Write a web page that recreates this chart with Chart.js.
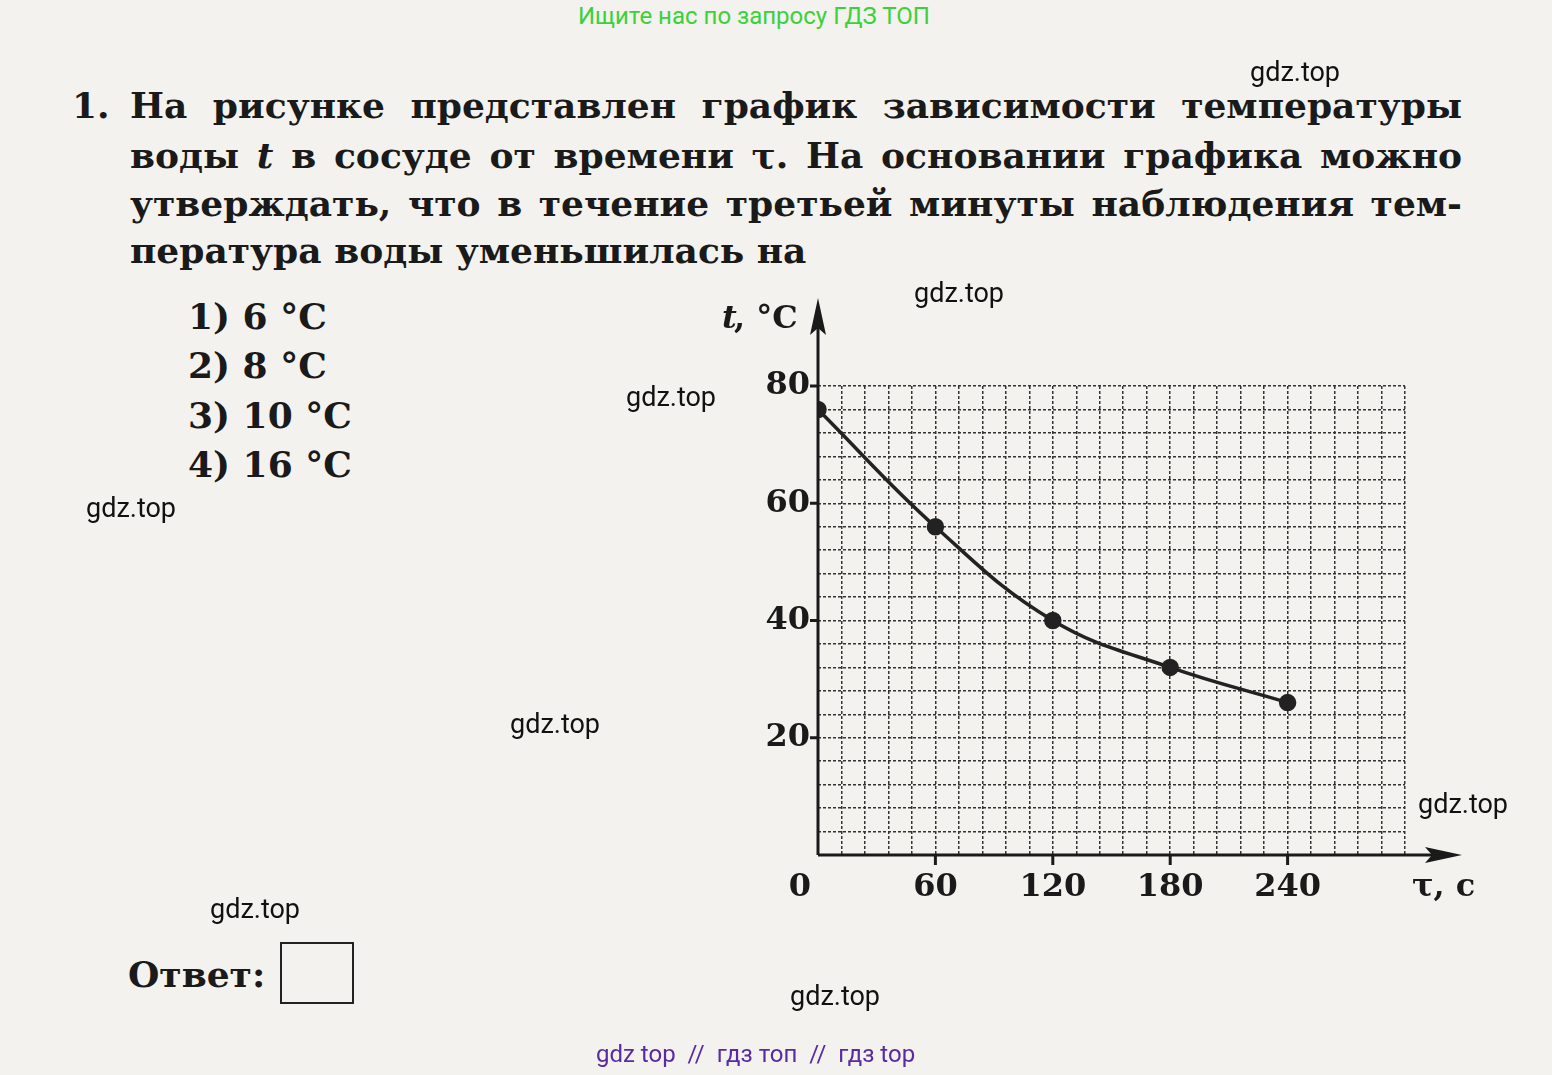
<!DOCTYPE html>
<html><head><meta charset="utf-8">
<script src="https://cdn.jsdelivr.net/npm/chart.js@4"></script>
<style>
body{margin:0;width:1552px;height:1075px;background:#f3f2ee;position:relative;overflow:hidden;font-family:"DejaVu Serif",serif;}
canvas{position:absolute;left:0;top:0;}
.t{position:absolute;font-weight:bold;font-size:36px;color:#1a1a1a;white-space:nowrap;}
.w{position:absolute;font-family:Roboto,sans-serif;font-size:27px;color:#111;}
.j{text-align:justify;text-align-last:justify;width:1332px;}
</style></head><body>
<div class="w" style="left:578px;top:2px;color:#3bd13b;font-size:24px">Ищите нас по запросу ГДЗ ТОП</div>
<div class="t" style="left:72px;top:84px">1.</div>
<div class="t j" style="left:130px;top:84px">На рисунке представлен график зависимости температуры</div>
<div class="t j" style="left:130px;top:134px">воды <i>t</i> в сосуде от времени τ. На основании графика можно</div>
<div class="t j" style="left:130px;top:182px">утверждать, что в течение третьей минуты наблюдения тем-</div>
<div class="t" style="left:130px;top:229px">пература воды уменьшилась на</div>
<div class="t" style="left:188px;top:295px">1) 6 °C</div>
<div class="t" style="left:188px;top:344px">2) 8 °C</div>
<div class="t" style="left:188px;top:394px">3) 10 °C</div>
<div class="t" style="left:188px;top:443px">4) 16 °C</div>
<div class="t" style="left:128px;top:953px">Ответ:</div>
<div style="position:absolute;left:280px;top:942px;width:70px;height:58px;border:2px solid #222"></div>
<canvas id="c" width="1552" height="1075"></canvas>
<div class="w" style="left:1250px;top:56px">gdz.top</div>
<div class="w" style="left:914px;top:277px">gdz.top</div>
<div class="w" style="left:626px;top:381px">gdz.top</div>
<div class="w" style="left:86px;top:492px">gdz.top</div>
<div class="w" style="left:510px;top:708px">gdz.top</div>
<div class="w" style="left:1418px;top:788px">gdz.top</div>
<div class="w" style="left:210px;top:893px">gdz.top</div>
<div class="w" style="left:790px;top:980px">gdz.top</div>
<div class="w" style="left:596px;top:1040px;color:#5a2aa0;font-size:24px">gdz top &nbsp;// &nbsp;гдз топ &nbsp;// &nbsp;гдз top</div>
<script>
var times = [0, 60, 120, 180, 240];
var temps = [76, 56, 40, 32, 26];
var xLabels = [0, 60, 120, 180, 240];
var yLabels = [20, 40, 60, 80];
var xGridStep = 12, yGridStep = 4;

function gridTicks(scale, step) {
  var t = [];
  for (var v = scale.min; v <= scale.max; v += step) t.push({ value: v });
  scale.ticks = t;
}

var axesPlugin = {
  id: "axes",
  afterDraw: function (ch) {
    var c = ch.ctx, x = ch.scales.x, y = ch.scales.y;
    var x0 = x.getPixelForValue(0), y0 = y.getPixelForValue(0);
    c.save();
    c.strokeStyle = "#1a1a1a"; c.fillStyle = "#1a1a1a"; c.lineWidth = 3;
    c.beginPath(); c.moveTo(x0, y0); c.lineTo(1450, y0); c.moveTo(x0, y0); c.lineTo(x0, 310); c.stroke();
    c.beginPath(); c.moveTo(1462, y0); c.lineTo(1425, y0 - 8); c.lineTo(1432, y0); c.lineTo(1425, y0 + 8); c.fill();
    c.beginPath(); c.moveTo(x0, 298); c.lineTo(x0 - 8, 335); c.lineTo(x0, 328); c.lineTo(x0 + 8, 335); c.fill();
    c.font = "bold 32px 'DejaVu Serif'";
    c.textBaseline = "middle";
    c.textAlign = "center";
    xLabels.forEach(function (v) {
      var px = x.getPixelForValue(v);
      if (v === 0) { c.fillText("0", px - 18, y0 + 33); return; }
      c.fillText(String(v), px, y0 + 33);
      c.beginPath(); c.moveTo(px, y0); c.lineTo(px, y0 + 10); c.stroke();
    });
    c.textAlign = "right";
    yLabels.forEach(function (v) {
      var py = y.getPixelForValue(v);
      c.fillText(String(v), x0 - 8, py);
      c.beginPath(); c.moveTo(x0 - 8, py); c.lineTo(x0, py); c.stroke();
    });
    c.textAlign = "left";
    c.fillText("τ, c", 1412, y0 + 33);
    c.font = "bold italic 32px 'DejaVu Serif'";
    c.fillText("t", 722, 320);
    c.font = "bold 32px 'DejaVu Serif'";
    c.fillText(", °C", 734, 320);
    c.restore();
  }
};

new Chart("c", {
  type: "line",
  data: {
    datasets: [{
      data: times.map(function (t, i) { return { x: t, y: temps[i] }; }),
      borderColor: "#222", backgroundColor: "#222", borderWidth: 3.5,
      pointRadius: 7, tension: 0.4
    }]
  },
  options: {
    responsive: false, animation: false,
    layout: { padding: { left: 818, top: 386, right: 147, bottom: 220 } },
    plugins: { legend: { display: false }, tooltip: { enabled: false } },
    scales: {
      x: { type: "linear", min: 0, max: 300, ticks: { display: false },
           afterBuildTicks: function (s) { gridTicks(s, xGridStep); },
           grid: { color: "#333", lineWidth: 1.5, drawTicks: false }, border: { display: false, dash: [3, 2] } },
      y: { min: 0, max: 80, ticks: { display: false },
           afterBuildTicks: function (s) { gridTicks(s, yGridStep); },
           grid: { color: "#333", lineWidth: 1.5, drawTicks: false }, border: { display: false, dash: [3, 2] } }
    }
  },
  plugins: [axesPlugin]
});
</script>
</body></html>
